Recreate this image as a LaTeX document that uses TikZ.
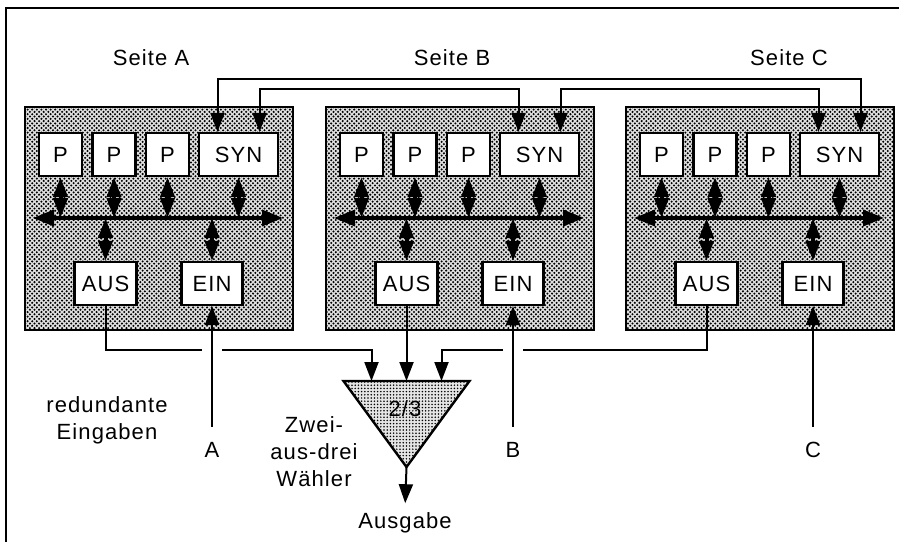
\documentclass[tikz,border=0pt]{standalone}
\usepackage{fontspec}
\setmainfont{Liberation Sans}[LetterSpace=5]
\usetikzlibrary{arrows.meta, patterns, calc}
\pgfdeclarepatternformonly{seitedots}{\pgfqpoint{-1pt}{-1pt}}{\pgfqpoint{4.6pt}{4.6pt}}{\pgfqpoint{4.6pt}{4.6pt}}{%
  \pgfpathcircle{\pgfqpoint{0pt}{0pt}}{1.15pt}%
  \pgfpathcircle{\pgfqpoint{2.3pt}{2.3pt}}{1.15pt}%
  \pgfusepath{fill}}
\pgfdeclarepatternformonly{waehlerdots}{\pgfqpoint{-1pt}{-1pt}}{\pgfqpoint{3.2pt}{3.2pt}}{\pgfqpoint{3.2pt}{3.2pt}}{%
  \pgfpathcircle{\pgfqpoint{0pt}{0pt}}{0.85pt}%
  \pgfusepath{fill}}

\begin{document}
\begin{tikzpicture}[x=1pt, y=-1pt,
    every node/.style={font=\fontsize{22}{27}\selectfont},
    unit/.style={draw, line width=2.2pt, fill=white, minimum height=43pt, inner sep=0pt},
    seitebox/.style={draw, line width=2.5pt, fill=black!12, postaction={pattern=seitedots}},
    bus/.style={line width=3.5pt, {Triangle[width=16pt,length=21pt]}-{Triangle[width=16pt,length=21pt]}},
    tap/.style={line width=4pt, {Triangle[width=14pt,length=20pt]}-{Triangle[width=14pt,length=20pt]}},
    wire/.style={line width=2pt},
    feed/.style={wire, -{Triangle[width=14pt,length=19pt]}},
    link/.style={wire, {Triangle[width=14pt,length=19pt]}-{Triangle[width=14pt,length=19pt]}}]
    \useasboundingbox (0,0) rectangle (899,542);
    \draw[line width=1.5pt] (6,542) -- (6,8) -- (899,8);
    % die drei Seiten
    \foreach \s/\dx in {A/0, B/301, C/601} {
      \node[seitebox, minimum width=268pt, minimum height=223pt] (S\s) at (159+\dx,218.5) {};
      \foreach \px [count=\i] in {60.5, 114, 167.5}
        \node[unit, minimum width=43pt] (P\i\s) at (\px+\dx,154.5) {P};
      \node[unit, minimum width=79pt] (SYN\s) at (238.5+\dx,154.5) {SYN};
      \node[unit, minimum width=62pt] (AUS\s) at (105.5+\dx,283.5) {AUS};
      \node[unit, minimum width=61pt] (EIN\s) at (212+\dx,283.5) {EIN};
      \coordinate (busL\s) at (33+\dx,218);
      \coordinate (busR\s) at (283+\dx,218);
      \draw[bus] (busL\s) -- (busR\s);
      \foreach \n in {P1\s, P2\s, P3\s, SYN\s}
        \draw[tap] (\n.south) -- (\n.south |- busL\s);
      \foreach \n in {AUS\s, EIN\s}
        \draw[tap] (\n.north |- busL\s) -- (\n.north);
    }
    \node (tA) at (151,58) {Seite A};
    \node (tB) at (452,58) {Seite B};
    \node (tC) at (789,58) {Seite C};
    % Synchronisation
    \draw[link] ([xshift=-21pt]SYNA.north) -- ++(0,-53) -| ([xshift=21pt]SYNC.north);
    \draw[link] ([xshift=21pt]SYNA.north) -- ++(0,-43) -| ([xshift=-21pt]SYNB.north);
    \draw[link] ([xshift=21pt]SYNB.north) -- ++(0,-43) -| ([xshift=-21pt]SYNC.north);
    % Waehler
    \coordinate (vL) at (343.5,381);
    \coordinate (vR) at (469.5,381);
    \coordinate (vT) at (406.5,467);
    \draw[line width=2.4pt, fill=black!10, postaction={pattern=waehlerdots}] (vL) -- (vR) -- (vT) -- cycle;
    \node (v23) at (405,409) {2/3};
    \coordinate (in1) at (371.5,381);
    \coordinate (in3) at (441.5,381);
    \coordinate (kA1) at (202,350);
    \coordinate (kA2) at (222,350);
    \coordinate (kB1) at (523,350);
    \coordinate (kB2) at (503,350);
    \draw[wire] (AUSA.south) |- (kA1);
    \draw[feed] (kA2) -| (in1);
    \draw[feed] (AUSB.south) -- (AUSB.south |- vL);
    \draw[wire] (AUSC.south) |- (kB1);
    \draw[feed] (kB2) -| (in3);
    % Eingaben
    \node (inA) at (212,450) {A};
    \node (inB) at (513,450) {B};
    \node (inC) at (813,450) {C};
    \foreach \s in {A, B, C}
      \draw[feed, shorten <=12pt] (in\s.north) -- (EIN\s.south);
    \node (outp) at (405,523) {Ausgabe};
    \draw[feed, shorten >=6pt] (vT) -- (outp.north);
    \node[align=center] (redund) at (107,420) {redundante\\Eingaben};
    \node[align=center] (zwei) at (314,452) {Zwei-\\aus-drei\\Wähler};
\end{tikzpicture}
\end{document}
